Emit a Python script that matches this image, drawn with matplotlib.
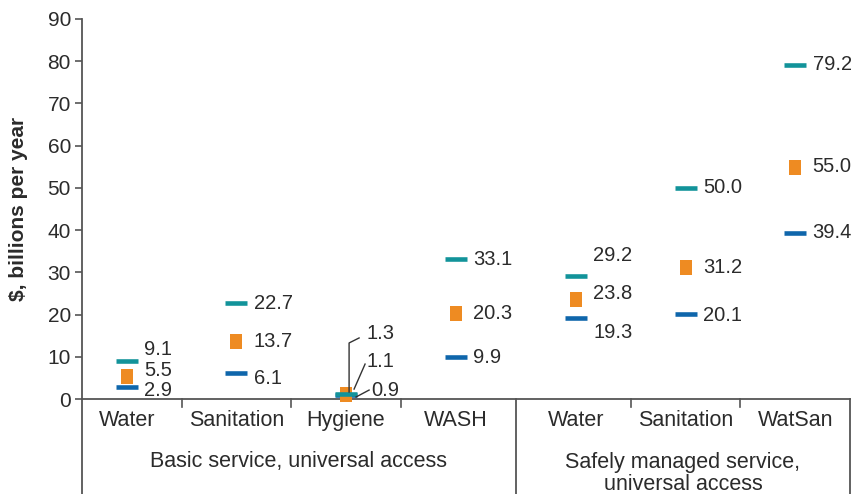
import matplotlib
matplotlib.use("Agg")
import matplotlib.pyplot as plt
from matplotlib.transforms import Affine2D, ScaledTranslation

# ---- data ----
categories = ["Water", "Sanitation", "Hygiene", "WASH", "Water", "Sanitation", "WatSan"]
groups = ["Basic service, universal access", "Safely managed service,\nuniversal access"]
group_sizes = [4, 3]
high = [9.1, 22.7, 1.3, 33.1, 29.2, 50.0, 79.2]
mid = [5.5, 13.7, 1.1, 20.3, 23.8, 31.2, 55.0]
low = [2.9, 6.1, 0.9, 9.9, 19.3, 20.1, 39.4]
yticks = [0, 10, 20, 30, 40, 50, 60, 70, 80, 90]
ylabel = "$, billions per year"

# ---- style ----
TEAL = "#12939A"
ORANGE = "#EE8B22"
BLUE = "#0F66AB"
TXT = "#2b2b2b"
LINE = "#555555"
FONT = "Liberation Sans"
plt.rcParams["font.family"] = [FONT, "DejaVu Sans"]

GROUP_GAP = 0.1
# label vertical offsets in points (positive = up), per category index
off_high = [8, 0, 0, 0, 14.4, 0, 0]
off_mid = [3.6, 0, 0, 0, 3.6, 0, 0]
off_low = [-3, -3.6, 0, 0, -10.8, -1, 0]
LABEL_DX = 12.5

# x positions: evenly spaced within groups, small gap between groups
x = []
pos = 0.0
for gi, g in enumerate(group_sizes):
    for k in range(g):
        x.append(pos)
        pos += 1
    pos += GROUP_GAP
pos -= 1 + GROUP_GAP

fig = plt.figure(figsize=(8.51, 4.94), dpi=100)
ax = fig.add_axes([82 / 851, 95 / 494, 768 / 851, 380 / 494])
xmin, xmax = -0.41, x[-1] + 0.5
ax.set_xlim(xmin, xmax)
ax.set_ylim(0, 90)

ax.plot(x, low, linestyle="none", marker="_", markersize=15.8, markeredgewidth=3.3,
        color=BLUE, zorder=3, clip_on=False)
rect = [(-0.43, -0.5), (0.43, -0.5), (0.43, 0.5), (-0.43, 0.5), (-0.43, -0.5)]
ax.plot(x, mid, linestyle="none", marker=rect, markersize=10.8, markeredgewidth=0,
        color=ORANGE, zorder=4, clip_on=False)
ax.plot(x, high, linestyle="none", marker="_", markersize=15.8, markeredgewidth=3.3,
        color=TEAL, zorder=5, clip_on=False)

VFS = 14.5
for i, xi in enumerate(x):
    if categories[i] == "Hygiene":
        continue
    for vals, offs in ((high, off_high), (mid, off_mid), (low, off_low)):
        ax.annotate(f"{vals[i]:.1f}", xy=(xi, vals[i]), xytext=(LABEL_DX, offs[i]),
                    textcoords="offset points", ha="left", va="center",
                    fontsize=VFS, color=TXT)

# Hygiene labels with leader lines
hi = categories.index("Hygiene")
hx = x[hi]
pt = fig.dpi / 72.0
hyg_specs = [
    (high[hi], (14.4, 43), [(2.2, 1.1), (2.2, 36.4), (9.4, 40)]),
    (mid[hi], (14.4, 24), [(5.8, 3.8), (13.7, 21.8)]),
    (low[hi], (18, 3.7), [(7.2, -1.3), (16.6, 3.7)]),
]
for v, (tx, ty), path in hyg_specs:
    ax.annotate(f"{v:.1f}", xy=(hx, v), xytext=(tx, ty), textcoords="offset points",
                ha="left", va="center", fontsize=VFS, color=TXT)
    tr = Affine2D().scale(pt) + ScaledTranslation(hx, v, ax.transData)
    ax.plot([p[0] for p in path], [p[1] for p in path], color="#333333", lw=1.0,
            transform=tr, clip_on=False, zorder=6)

# axes styling
for s in ("top", "right"):
    ax.spines[s].set_visible(False)
for s in ("left", "bottom"):
    ax.spines[s].set_color(LINE)
    ax.spines[s].set_linewidth(1.3)
ax.set_yticks(yticks)
ax.set_yticklabels([str(t) for t in yticks])
ax.tick_params(axis="y", direction="out", length=5, width=1.2, color=LINE, pad=3,
               labelsize=15, labelcolor=TXT)
ax.set_xticks([])
ax.text(-0.083, 0.5, ylabel, transform=ax.transAxes, rotation=90, ha="center",
        va="center", fontsize=15, fontweight="bold", color=TXT)

xt = ax.get_xaxis_transform()
bottom = -95 / 380
# group boundaries
bounds = [xmin]
idx = 0
for gi, g in enumerate(group_sizes):
    idx += g
    if idx < len(x):
        bounds.append((x[idx - 1] + x[idx]) / 2)
bounds.append(xmax)
for b in bounds:
    ax.plot([b, b], [0, bottom], transform=xt, color=LINE, lw=1.3, clip_on=False)
# small ticks between categories within groups
for i in range(len(x) - 1):
    m = (x[i] + x[i + 1]) / 2
    if any(abs(m - b) < 1e-9 for b in bounds):
        continue
    ax.plot([m, m], [0, -8 / 380], transform=xt, color=LINE, lw=1.2, clip_on=False)
# category labels
for xi, c in zip(x, categories):
    ax.text(xi, -21 / 380, c, transform=xt, ha="center", va="center", fontsize=15.5, color=TXT)
# group labels
group_y = [-62 / 380, -74.5 / 380]
for gi, g in enumerate(groups):
    cx = (bounds[gi] + bounds[gi + 1]) / 2
    ax.text(cx, group_y[gi], g, transform=xt, ha="center", va="center", fontsize=15.5,
            color=TXT, linespacing=1.1)

fig.savefig("out.png", dpi=100)
